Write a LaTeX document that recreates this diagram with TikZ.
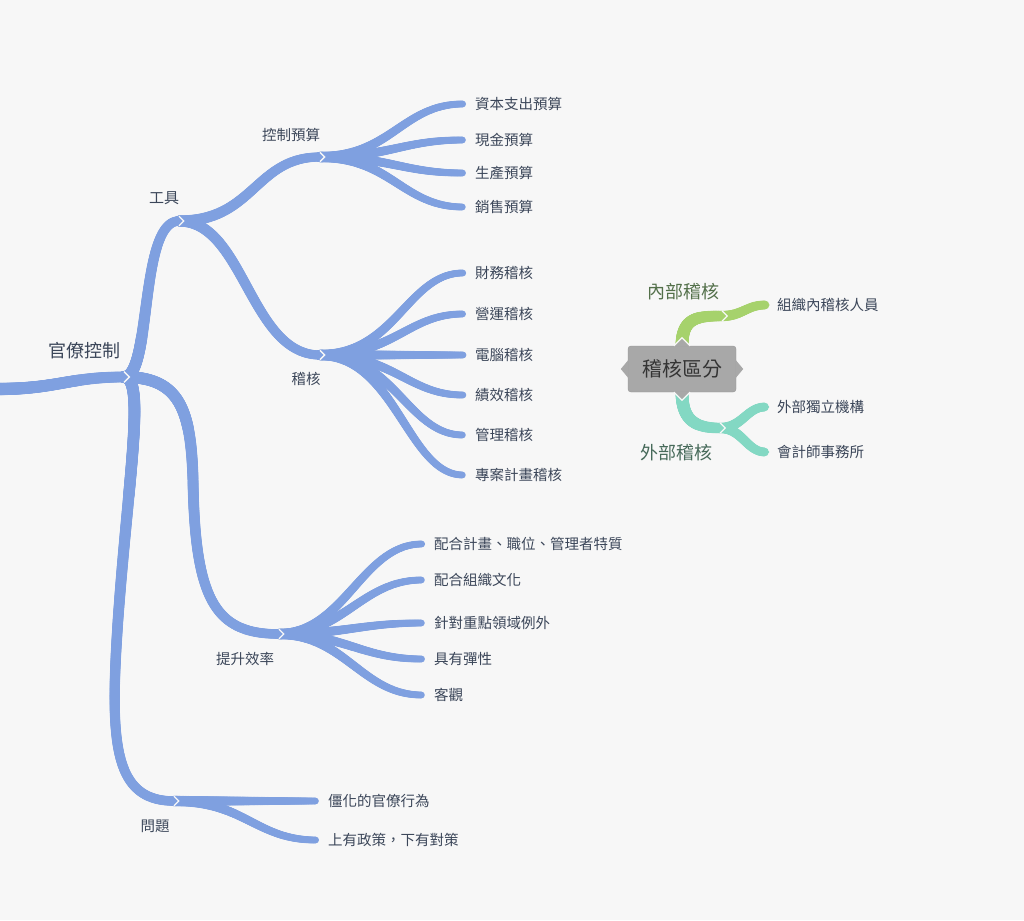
\documentclass[tikz,border=0pt]{standalone}
\usepackage{fontspec}
\setmainfont{Noto Sans CJK TC}
\usetikzlibrary{decorations.markings,calc}
\definecolor{bgc}{HTML}{F7F7F7}
\definecolor{brc}{HTML}{7FA0E0}
\definecolor{txc}{HTML}{3B4659}
\definecolor{grc}{HTML}{A6D26C}
\definecolor{tlc}{HTML}{83D8C3}
\definecolor{gyc}{HTML}{A8A8A8}
\definecolor{gyd}{HTML}{979797}
\definecolor{gytx}{HTML}{343434}
\definecolor{glab}{HTML}{53704A}
\definecolor{tlab}{HTML}{476A5A}
\pgfdeclarelayer{bgl}
\pgfdeclarelayer{brl}
\pgfsetlayers{bgl,brl,main}
\tikzset{
  taper/.style n args={3}{postaction={decorate,decoration={markings,
      mark=between positions 0 and 1 step 0.8pt with {%
        \pgfmathsetmacro\tr{#1+(#2-#1)*\pgfkeysvalueof{/pgf/decoration/mark info/distance from start}/\pgfdecoratedpathlength}%
        \fill[#3] (0pt,0pt) circle[radius=\tr pt];},
      mark=at position 1 with {\fill[#3] (-1pt,#2pt) -- (#2pt,0pt) -- (-1pt,-#2pt) -- cycle;}}}},
  notchline/.style={draw=bgc, line width=1.3pt},
  lab/.style={text=txc, inner sep=0pt, font=\fontsize{14.5}{17}\selectfont},
  leaf/.style={lab, anchor=west},
  big/.style={inner sep=0pt, font=\fontsize{18}{21}\selectfont},
}
\newcommand\notchat[2]{\draw[notchline] ($(#1)+(0,-#2)$) -- ($(#1)+(#2,0)$) -- ($(#1)+(0,#2)$);}
\begin{document}
\begin{tikzpicture}[x=1pt,y=-1pt]
\begin{pgfonlayer}{bgl}
\fill[bgc] (0,0) rectangle (1024,920);
\end{pgfonlayer}
\useasboundingbox (0,0) rectangle (1024,920);

% junction coordinates
\coordinate (S) at (-3,389);
\coordinate (B0) at (124,377);
\coordinate (B1) at (179,221);
\coordinate (B2) at (320,157);
\coordinate (B3) at (320,355);
\coordinate (B4) at (279,634);
\coordinate (B5) at (174,801);

% branch labels
\node[lab, font=\fontsize{18}{21}\selectfont] (root) at (84,351) {官僚控制};
\node[lab, font=\fontsize{15}{18}\selectfont] (gj) at (164,198) {工具};
\node[lab] (kz) at (291,135) {控制預算};
\node[lab] (jhb) at (306,379) {稽核};
\node[lab] (ts) at (245,659) {提升效率};
\node[lab] (wt) at (155,826) {問題};

\begin{pgfonlayer}{brl}
\path[taper={6.2}{5.4}{brc}] (S) .. controls +(60,0) and +(-55,0) .. (B0);
\path[taper={6}{4.8}{brc}] (B0) .. controls +(28,0) and +(-40,0) .. (B1);
\path[taper={6}{4.8}{brc}] (B0) .. controls (180,377) and (191,410) .. (193,480)
   .. controls (195,600) and (215,634) .. (B4);
\path[taper={6}{4.8}{brc}] (B0) .. controls (146,377) and (128,480) .. (118,620)
   .. controls (110,740) and (112,801) .. (B5);
\path[taper={5.6}{4.6}{brc}] (B1) .. controls +(75,0) and +(-65,0) .. (B2);
\path[taper={5.6}{4.6}{brc}] (B1) .. controls +(65,0) and +(-70,0) .. (B3);
\end{pgfonlayer}

\foreach \n/\y/\t in {a1/104/資本支出預算, a2/140/現金預算, a3/173/生產預算, a4/207/銷售預算}{
  \node[leaf] (\n) at (475,\y) {\t};
  \begin{pgfonlayer}{brl}
  \path[taper={5.2}{3.4}{brc}] (B2) .. controls +(70,0) and +(-60,0) .. ($(\n.west)+(-12,0)$);
  \end{pgfonlayer}
}
\foreach \n/\y/\t in {b1/273/財務稽核, b2/314/營運稽核, b3/355/電腦稽核, b4/395/績效稽核, b5/435/管理稽核, b6/475/專案計畫稽核}{
  \node[leaf] (\n) at (475,\y) {\t};
  \begin{pgfonlayer}{brl}
  \path[taper={5.2}{3.4}{brc}] (B3) .. controls +(75,0) and +(-55,0) .. ($(\n.west)+(-12,0)$);
  \end{pgfonlayer}
}
\foreach \n/\y/\t in {c1/544/配合計畫、職位、管理者特質, c2/580/配合組織文化, c3/623/針對重點領域例外, c4/659/具有彈性, c5/695/客觀}{
  \node[leaf] (\n) at (434,\y) {\t};
  \begin{pgfonlayer}{brl}
  \path[taper={5.2}{3.4}{brc}] (B4) .. controls +(65,0) and +(-60,0) .. ($(\n.west)+(-12,0)$);
  \end{pgfonlayer}
}
\foreach \n/\y/\t in {d1/801/僵化的官僚行為, d2/840/上有政策，下有對策}{
  \node[leaf] (\n) at (328,\y) {\t};
  \begin{pgfonlayer}{brl}
  \path[taper={5.2}{3.4}{brc}] (B5) .. controls +(70,0) and +(-60,0) .. ($(\n.west)+(-12,0)$);
  \end{pgfonlayer}
}

\notchat{B0}{5.4}
\notchat{B1}{4.8}
\notchat{B2}{4.6}
\notchat{B3}{4.6}
\notchat{B4}{4.8}
\notchat{B5}{4.8}

% right cluster
\node[draw=gyd, fill=gyc, rounded corners=3pt, minimum width=108pt, minimum height=46pt, inner sep=0pt, text=gytx, font=\fontsize{20}{24}\selectfont] (jh) at (682,369) {稽核區分};
\fill[gyc] ($(jh.west)+(0.5,-9)$) -- ($(jh.west)+(-7,0)$) -- ($(jh.west)+(0.5,9)$) -- cycle;
\fill[gyc] ($(jh.east)+(-0.5,-9)$) -- ($(jh.east)+(7,0)$) -- ($(jh.east)+(-0.5,9)$) -- cycle;
\fill[gyc] ($(jh.north)+(-8,0.5)$) -- ($(jh.north)+(0,-7)$) -- ($(jh.north)+(8,0.5)$) -- cycle;
\fill[gyc] ($(jh.south)+(-8,-0.5)$) -- ($(jh.south)+(0,7)$) -- ($(jh.south)+(8,-0.5)$) -- cycle;
\draw[notchline] ($(jh.north)+(-8,0)$) -- ($(jh.north)+(0,-8)$) -- ($(jh.north)+(8,0)$);
\draw[notchline] ($(jh.south)+(-8,0)$) -- ($(jh.south)+(0,8)$) -- ($(jh.south)+(8,0)$);

\coordinate (G1) at (722,316);
\coordinate (T1) at (720,428);
\node[big, text=glab] (nb) at (683,292) {內部稽核};
\node[big, text=tlab] (wb) at (676,453) {外部稽核};
\node[leaf] (g1) at (777,305) {組織內稽核人員};
\node[leaf] (t1) at (777,407) {外部獨立機構};
\node[leaf] (t2) at (777,452) {會計師事務所};

\begin{pgfonlayer}{brl}
\path[taper={6.5}{5.2}{grc}] (jh.north) .. controls +(0,-28) and +(-25,0) .. (G1);
\path[taper={5.2}{4.4}{grc}] (G1) .. controls +(20,0) and +(-18,0) .. ($(g1.west)+(-12,0)$);
\path[taper={6.5}{5.2}{tlc}] (jh.south) .. controls +(0,28) and +(-25,0) .. (T1);
\path[taper={5.2}{4.4}{tlc}] (T1) .. controls +(22,0) and +(-18,0) .. ($(t1.west)+(-12,0)$);
\path[taper={5.2}{4.4}{tlc}] (T1) .. controls +(22,0) and +(-18,0) .. ($(t2.west)+(-12,0)$);
\end{pgfonlayer}
\notchat{G1}{5.2}
\notchat{T1}{5.2}
\end{tikzpicture}
\end{document}
